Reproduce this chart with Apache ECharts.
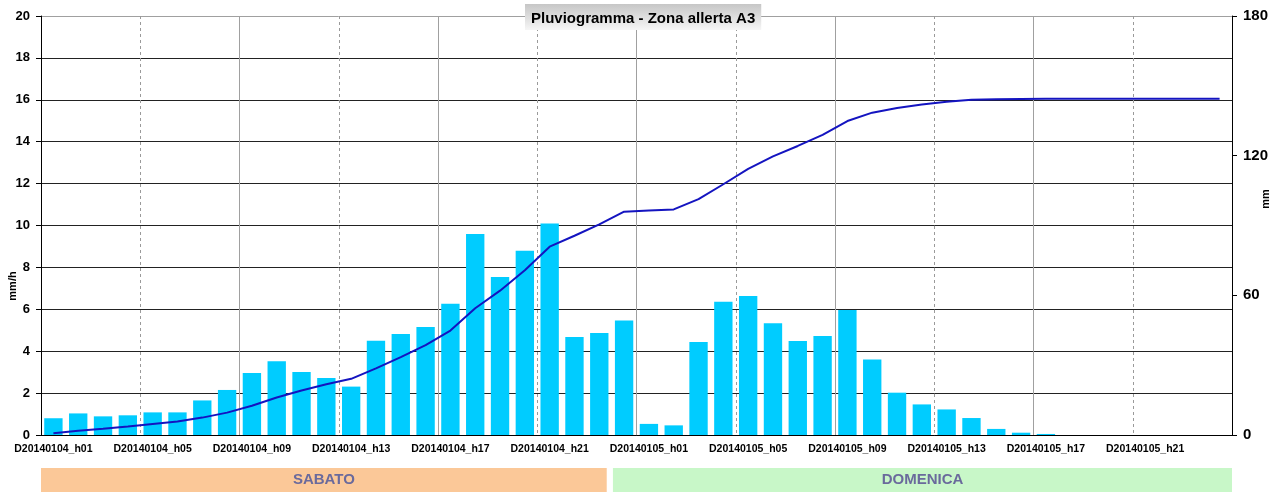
<!DOCTYPE html>
<html>
<head>
<meta charset="utf-8">
<script src="https://cdn.jsdelivr.net/npm/echarts@6/dist/echarts.min.js"></script>
<style>html,body{margin:0;padding:0;background:#fff;}#c{width:1282px;height:492px;}</style>
</head>
<body>
<div id="c"></div>
<script>
const categories = [
 'D20140104_h01','D20140104_h02','D20140104_h03','D20140104_h04','D20140104_h05','D20140104_h06',
 'D20140104_h07','D20140104_h08','D20140104_h09','D20140104_h10','D20140104_h11','D20140104_h12',
 'D20140104_h13','D20140104_h14','D20140104_h15','D20140104_h16','D20140104_h17','D20140104_h18',
 'D20140104_h19','D20140104_h20','D20140104_h21','D20140104_h22','D20140104_h23','D20140104_h24',
 'D20140105_h01','D20140105_h02','D20140105_h03','D20140105_h04','D20140105_h05','D20140105_h06',
 'D20140105_h07','D20140105_h08','D20140105_h09','D20140105_h10','D20140105_h11','D20140105_h12',
 'D20140105_h13','D20140105_h14','D20140105_h15','D20140105_h16','D20140105_h17','D20140105_h18',
 'D20140105_h19','D20140105_h20','D20140105_h21','D20140105_h22','D20140105_h23','D20140105_h24'
];
const hourlyRain = [
 0.80,1.03,0.89,0.94,1.08,1.08,1.65,2.15,2.96,3.52,3.01,2.72,
 2.31,4.50,4.82,5.15,6.27,9.59,7.54,8.80,10.10,4.68,4.87,5.47,
 0.53,0.46,4.44,6.36,6.63,5.33,4.49,4.73,5.97,3.60,2.02,1.46,
 1.22,0.81,0.29,0.11,0.05,0,0,0,0,0,0,0
];
const cumulativeRain = [
 0.80,1.83,2.72,3.66,4.74,5.82,7.47,9.62,12.58,16.10,19.11,21.83,
 24.14,28.64,33.46,38.61,44.88,54.47,62.01,70.81,80.91,85.59,90.46,95.93,
 96.46,96.92,101.36,107.72,114.35,119.68,124.17,128.90,134.87,138.47,140.49,141.95,
 143.17,143.98,144.27,144.38,144.43,144.43,144.43,144.43,144.43,144.43,144.43,144.43
];
const dayNames = ['SABATO','DOMENICA'];
const dayStart = [0, 23.05];
const dayEnd = [22.8, 48];
const dayColors = ['#fbc898','#c8f7c8'];

const FONT = "'Liberation Sans', Arial, sans-serif";
const chart = echarts.init(document.getElementById('c'));
const hColors = [];
for (let i = 0; i < 10; i++) hColors.push('#222');
hColors.push('#a0a0a0');

chart.setOption({
  animation: false,
  textStyle: { fontFamily: FONT },
  title: {
    text: 'Pluviogramma - Zona allerta A3',
    left: 525, top: 4,
    padding: [7, 6, 4, 6],
    backgroundColor: new echarts.graphic.LinearGradient(0, 0, 0, 1, [
      { offset: 0, color: '#c6c6c6' }, { offset: 1, color: '#f6f6f6' }
    ]),
    textStyle: { fontSize: 15, fontWeight: 'bold', color: '#000', fontFamily: FONT }
  },
  grid: [
    { left: 41, right: 50, top: 16, bottom: 57 },
    { left: 41, right: 50, top: 468, height: 24 }
  ],
  xAxis: [
    {
      type: 'category', gridIndex: 0, data: categories, boundaryGap: true,
      axisLine: { lineStyle: { color: '#000' } },
      axisTick: { interval: 3, length: 4, lineStyle: { color: '#000' } },
      axisLabel: { interval: 3, fontSize: 10.5, fontWeight: 'bold', color: '#000', margin: 9, fontFamily: FONT },
      splitLine: { show: true, interval: function (i) { return i % 8 === 4; },
        lineStyle: { color: '#9a9a9a', type: [3, 3], width: 1 } }
    },
    {
      type: 'category', gridIndex: 0, data: categories, boundaryGap: true, position: 'top',
      axisLine: { show: false }, axisTick: { show: false }, axisLabel: { show: false },
      splitLine: { show: true, interval: function (i) { return i % 8 === 0 && i > 0 && i < 48; },
        lineStyle: { color: '#a0a0a0', width: 1 } }
    },
    { type: 'value', gridIndex: 1, min: 0, max: 48, show: false }
  ],
  yAxis: [
    {
      type: 'value', gridIndex: 0, min: 0, max: 20, interval: 2, position: 'left',
      axisLine: { show: true, lineStyle: { color: '#000' } },
      axisTick: { show: true, length: 5, lineStyle: { color: '#000' } },
      axisLabel: { fontSize: 13, fontWeight: 'bold', color: '#000', margin: 11, fontFamily: FONT },
      splitLine: { show: true, lineStyle: { color: hColors, width: 1 } }
    },
    {
      type: 'value', gridIndex: 0, min: 0, max: 180, interval: 60, position: 'right',
      axisLine: { show: true, lineStyle: { color: '#000' } },
      axisTick: { show: true, length: 5, lineStyle: { color: '#000' } },
      axisLabel: { fontSize: 15, fontWeight: 'bold', color: '#000', margin: 11, fontFamily: FONT },
      splitLine: { show: false }
    },
    { type: 'value', gridIndex: 1, min: 0, max: 1, show: false }
  ],
  graphic: [
    { type: 'text', x: 13, y: 286, rotation: Math.PI / 2,
      style: { text: 'mm/h', align: 'center', verticalAlign: 'middle', fill: '#000', font: 'bold 11px ' + FONT } },
    { type: 'text', x: 1266, y: 199, rotation: Math.PI / 2,
      style: { text: 'mm', align: 'center', verticalAlign: 'middle', fill: '#000', font: 'bold 11px ' + FONT } }
  ],
  series: [
    {
      type: 'bar', xAxisIndex: 0, yAxisIndex: 0, data: hourlyRain,
      barCategoryGap: '26%', itemStyle: { color: '#00ccff' }, z: 2
    },
    {
      type: 'line', xAxisIndex: 0, yAxisIndex: 1, data: cumulativeRain,
      symbol: 'none', lineStyle: { color: '#1414c0', width: 2 }, itemStyle: { color: '#1414c0' }, z: 3
    },
    {
      type: 'custom', xAxisIndex: 2, yAxisIndex: 2,
      data: dayNames.map(function (n, i) { return [dayStart[i], dayEnd[i]]; }),
      renderItem: function (params, api) {
        const p1 = api.coord([api.value(0), 1]);
        const p2 = api.coord([api.value(1), 0]);
        return {
          type: 'group',
          children: [
            { type: 'rect', shape: { x: p1[0], y: p1[1], width: p2[0] - p1[0], height: p2[1] - p1[1] },
              style: { fill: dayColors[params.dataIndex] } },
            { type: 'text', style: { text: dayNames[params.dataIndex], x: (p1[0] + p2[0]) / 2, y: (p1[1] + p2[1]) / 2,
              align: 'center', verticalAlign: 'middle', fill: '#6a6a9c', font: 'bold 15px ' + FONT } }
          ]
        };
      }
    }
  ]
});
</script>
</body>
</html>
